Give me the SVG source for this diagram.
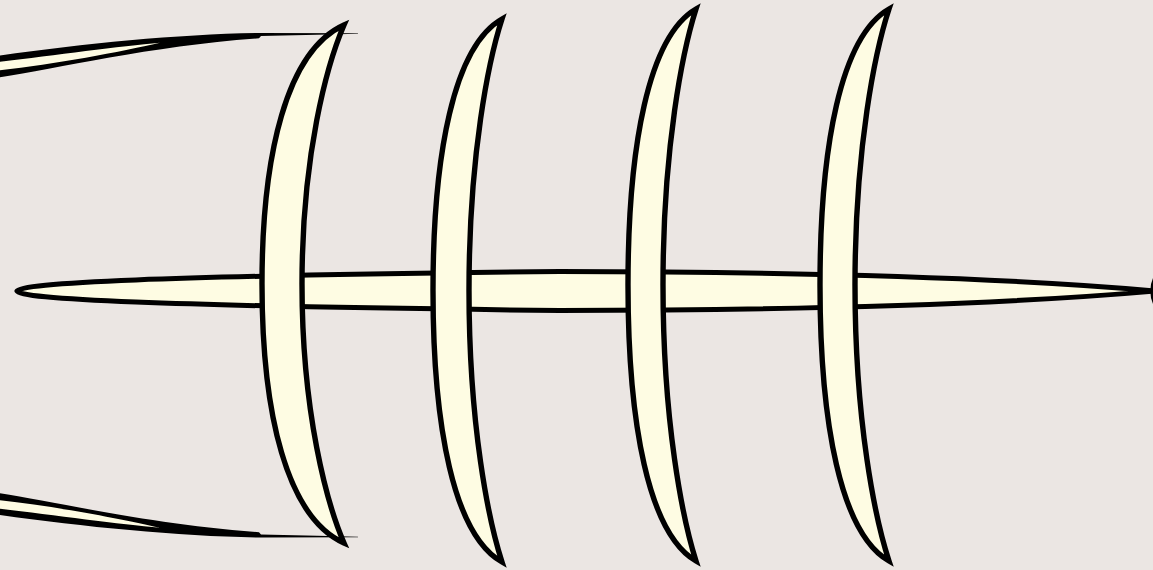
<svg xmlns="http://www.w3.org/2000/svg" width="1153" height="570" viewBox="0 0 1153 570">
<style>
.bone{fill:#FEFCE3;stroke:#000;stroke-width:5;stroke-linejoin:miter;stroke-miterlimit:6}
.rib{fill:#FEFCE3;stroke:#000;stroke-width:5.4;stroke-linejoin:miter;stroke-miterlimit:6}
.ink{fill:#000;stroke:none}
.cream{fill:#FEFCE3;stroke:none}
</style>
<rect x="0" y="0" width="1153" height="570" fill="#EBE6E3"/>
<g id="gill-top">
<path class="ink" d="M -5,56.2 C 80,44 180,34 260,33 L 358,33.2 L 358,33.8 L 317,34.8 L 261,36 L 259,38.3 C 150,46 50,70 -5,78 Z"/>
<path class="cream" d="M -5,62.3 C 50,56 120,46 160,42.7 C 120,52 50,65 -5,70.7 Z"/>
</g>
<g id="gill-bottom">
<path class="ink" d="M -5,514.3 C 80,526.5 180,536.5 260,537.5 L 358,537.3 L 358,536.7 L 317,535.7 L 261,534.5 L 259,532.2 C 150,524.5 50,500.5 -5,492.5 Z"/>
<path class="cream" d="M -5,508.2 C 50,514.5 120,524.5 160,527.8 C 120,518.5 50,505.5 -5,499.8 Z"/>
</g>
<g id="tail">
<circle class="rib" cx="1181.5" cy="291" r="28.5"/>
</g>
<g id="spine">
<path class="bone" d="M 17,291 C 20,283 150,276 560,271.5 C 950,272 1110,287 1156,291 C 1110,295 950,310 560,310.5 C 150,306 20,299 17,291 Z"/>
</g>
<g id="rib1">
<path class="rib" d="M 344,25 C 286.6,50.9 262,154.5 262,284 C 262,413.5 286.6,517.1 344,543 C 327.2,504.2 302,413.5 302,284 C 302,154.5 327.2,63.9 344,25 Z"/>
</g>
<g id="rib2">
<path class="rib" d="M 502,19 C 453.7,46.2 433,154.8 433,290.5 C 433,426.3 453.7,534.9 502,562 C 488.8,521.3 469,426.3 469,290.5 C 469,154.8 488.8,59.7 502,19 Z"/>
</g>
<g id="rib3">
<path class="rib" d="M 696,9 C 648.4,36.6 628,147 628,285 C 628,423 648.4,533.4 696,561 C 682.8,519.6 663,423 663,285 C 663,147 682.8,50.4 696,9 Z"/>
</g>
<g id="rib4">
<path class="rib" d="M 889,9 C 840.7,36.6 820,147 820,285 C 820,423 840.7,533.4 889,561 C 875.4,519.6 855,423 855,285 C 855,147 875.4,50.4 889,9 Z"/>
</g>
</svg>
